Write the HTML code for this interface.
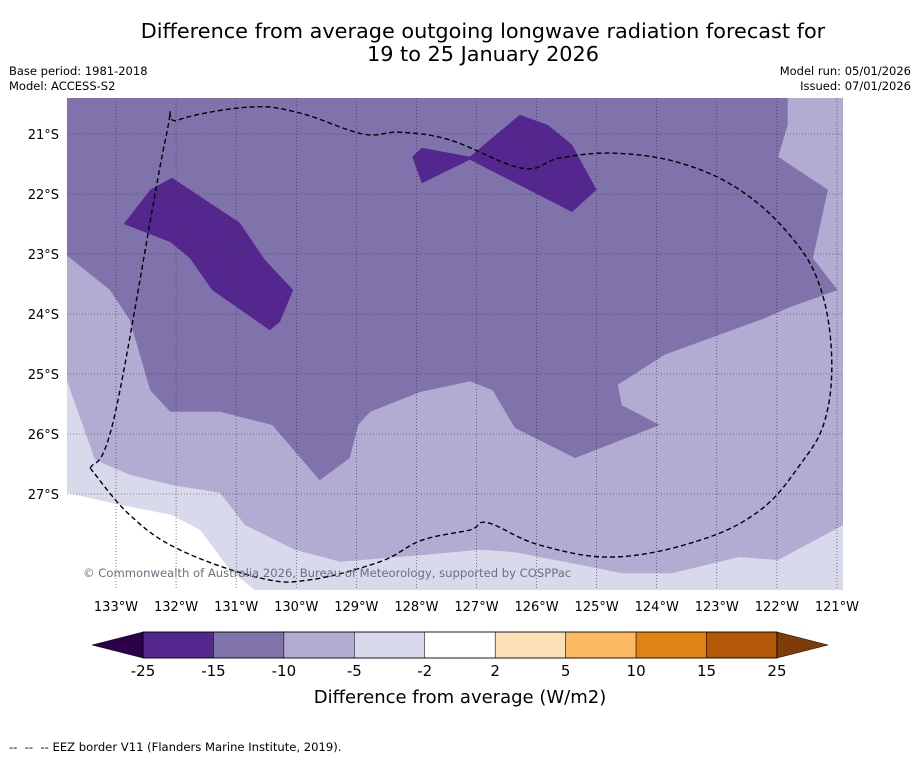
<!DOCTYPE html>
<html><head><meta charset="utf-8">
<style>
body{margin:0;background:#fff;font-family:"DejaVu Sans","Liberation Sans",sans-serif;}
svg{display:block}
</style></head>
<body>
<svg id="chart" width="919" height="758" viewBox="0 0 919 758" xmlns="http://www.w3.org/2000/svg">
<text x="483" y="38" font-size="20.8" text-anchor="middle" fill="#000">Difference from average outgoing longwave radiation forecast for</text>
<text x="483" y="61" font-size="20.8" text-anchor="middle" fill="#000">19 to 25 January 2026</text>
<text x="9" y="75" font-size="11.5">Base period: 1981-2018</text>
<text x="9" y="90" font-size="11.5">Model: ACCESS-S2</text>
<text x="911" y="75" font-size="11.5" text-anchor="end">Model run: 05/01/2026</text>
<text x="911" y="90" font-size="11.5" text-anchor="end">Issued: 07/01/2026</text>
<defs><clipPath id="mapclip"><rect x="67" y="98" width="776" height="492"/></clipPath></defs>
<g id="map" clip-path="url(#mapclip)"></g>
<g id="axes"></g>
<g id="cbar"></g>
<text x="460" y="703" font-size="18" text-anchor="middle">Difference from average (W/m2)</text>
<text x="9" y="751" font-size="11.6" style="white-space:pre">--  --  -- EEZ border V11 (Flanders Marine Institute, 2019).</text>
</svg>
<script>
const lonTicks=[-133,-132,-131,-130,-129,-128,-127,-126,-125,-124,-123,-122,-121];
const latTicks=[-21,-22,-23,-24,-25,-26,-27];
const levels=[-25,-15,-10,-5,-2,2,5,10,15,25];
const levelColors=["#54278f","#8073ac","#b2abd2","#d8daeb","#ffffff","#fee0b6","#fdb863","#e08214","#b35806"];
const extLow="#2d004b", extHigh="#7f3b08";
const lightRegion=[[-133.82,-23.02],[-133.10,-23.60],[-132.77,-24.10],[-132.43,-25.27],[-132.10,-25.63],[-131.27,-25.63],[-130.40,-25.85],[-129.61,-26.77],[-129.11,-26.40],[-128.97,-25.85],[-128.77,-25.63],[-127.94,-25.30],[-127.11,-25.12],[-126.73,-25.27],[-126.36,-25.90],[-125.36,-26.40],[-123.95,-25.85],[-124.58,-25.52],[-124.65,-25.18],[-123.87,-24.68],[-122.20,-24.07],[-121.82,-23.90],[-120.99,-23.60],[-121.40,-23.07],[-121.15,-21.93],[-121.98,-21.38],[-121.82,-20.85],[-121.82,-20.40],[-120.90,-20.40],[-120.90,-28.60],[-133.82,-28.60]];
const lightestRegion=[[-133.82,-25.10],[-133.35,-26.43],[-132.77,-26.68],[-132.07,-26.85],[-131.27,-26.98],[-130.85,-27.52],[-130.02,-27.93],[-129.27,-28.13],[-127.94,-28.02],[-126.94,-27.93],[-126.36,-27.97],[-125.28,-28.18],[-124.58,-28.32],[-123.75,-28.32],[-122.62,-28.05],[-121.98,-28.10],[-120.90,-27.52],[-120.90,-28.60],[-133.82,-28.60]];
const whiteRegion=[[-133.82,-26.98],[-132.93,-27.18],[-132.07,-27.35],[-131.60,-27.60],[-131.10,-28.27],[-130.69,-28.60],[-133.82,-28.60]];
const darkWest=[[-132.87,-22.50],[-132.43,-21.93],[-132.07,-21.73],[-130.94,-22.48],[-130.52,-23.10],[-130.05,-23.60],[-130.27,-24.13],[-130.44,-24.27],[-131.40,-23.60],[-131.77,-23.07],[-132.10,-22.80]];
const darkNorth=[[-128.07,-21.38],[-127.91,-21.23],[-127.11,-21.38],[-126.28,-20.68],[-125.81,-20.85],[-125.41,-21.18],[-125.00,-21.93],[-125.41,-22.30],[-127.11,-21.43],[-127.91,-21.82]];
const eezBorder=[[-133.43,-26.57],[-133.02,-25.68],[-132.18,-21.10],[-131.97,-20.77],[-130.77,-20.55],[-129.94,-20.65],[-128.89,-21.00],[-128.27,-20.97],[-127.44,-21.10],[-126.24,-21.57],[-125.61,-21.40],[-124.70,-21.32],[-123.62,-21.48],[-122.62,-21.93],[-121.79,-22.68],[-121.29,-23.52],[-121.09,-24.68],[-121.20,-25.77],[-121.62,-26.52],[-122.28,-27.27],[-123.28,-27.77],[-124.70,-28.05],[-125.95,-27.85],[-126.81,-27.48],[-127.11,-27.60],[-127.91,-27.77],[-128.61,-28.13],[-129.77,-28.43],[-130.60,-28.40],[-131.94,-27.93],[-132.77,-27.35],[-133.43,-26.57]];

const NS="http://www.w3.org/2000/svg";
const xS=lon=>116+(lon+133)*60.08;
const yS=lat=>134+(-21-lat)*60;
const cbX=i=>143+i*70.44;
function mk(t,a,p){const e=document.createElementNS(NS,t);for(const k in a)e.setAttribute(k,a[k]);p.appendChild(e);return e;}
function pts(arr){return arr.map(p=>xS(p[0]).toFixed(1)+","+yS(p[1]).toFixed(1)).join(" ");}
function smoothPath(arr){
  const P=arr.map(p=>[xS(p[0]),yS(p[1])]);
  let d="M"+P[0][0].toFixed(1)+","+P[0][1].toFixed(1);
  for(let i=0;i<P.length-1;i++){
    const p0=P[Math.max(0,i-1)],p1=P[i],p2=P[i+1],p3=P[Math.min(P.length-1,i+2)];
    const t=0.18;
    const c1=[p1[0]+(p2[0]-p0[0])*t,p1[1]+(p2[1]-p0[1])*t];
    const c2=[p2[0]-(p3[0]-p1[0])*t,p2[1]-(p3[1]-p1[1])*t];
    d+=` C${c1[0].toFixed(1)},${c1[1].toFixed(1)} ${c2[0].toFixed(1)},${c2[1].toFixed(1)} ${p2[0].toFixed(1)},${p2[1].toFixed(1)}`;
  }
  return d;
}
const map=document.getElementById("map"),axes=document.getElementById("axes"),cb=document.getElementById("cbar");
let bg=mk("rect",{x:67,y:98,width:776,height:492,fill:levelColors[1]},map);


let p1=mk("polygon",{points:pts(lightRegion),fill:levelColors[2]},map);


let p2=mk("polygon",{points:pts(lightestRegion),fill:levelColors[3]},map);


let p3=mk("polygon",{points:pts(whiteRegion),fill:levelColors[4]},map);


let p4=mk("polygon",{points:pts(darkWest),fill:levelColors[0]},map);


let p5=mk("polygon",{points:pts(darkNorth),fill:levelColors[0]},map);


lonTicks.forEach(l=>{
  let g=mk("line",{x1:xS(l),x2:xS(l),y1:98,y2:590,"stroke":"#333","stroke-width":0.6,"stroke-dasharray":"1,2"},map);
  
  
  let t=mk("text",{x:xS(l),y:611,"font-size":13,"text-anchor":"middle"},axes);
  t.textContent=Math.abs(l)+"°W";
  
  
});
latTicks.forEach(l=>{
  let g=mk("line",{x1:67,x2:843,y1:yS(l),y2:yS(l),"stroke":"#333","stroke-width":0.6,"stroke-dasharray":"1,2"},map);
  
  
  let t=mk("text",{x:59,y:yS(l)+5,"font-size":13,"text-anchor":"end"},axes);
  t.textContent=Math.abs(l)+"°S";
  
  
});
let eez=mk("path",{d:smoothPath(eezBorder),"fill":"none","stroke":"#000","stroke-width":1.4,"stroke-dasharray":"5,3"},map);


let cr=mk("text",{x:83,y:577,"font-size":11.6,"fill":"#6e6e80"},map);
cr.textContent="© Commonwealth of Australia 2026, Bureau of Meteorology, supported by COSPPac";


levelColors.forEach((c,i)=>{
  let r=mk("rect",{x:cbX(i),y:632,width:cbX(i+1)-cbX(i),height:26,"fill":c,"stroke":"#000","stroke-width":0.5},cb);
  
  
});
let e1=mk("polygon",{points:`${cbX(0)},632 92,645 ${cbX(0)},658`,"fill":extLow,"stroke":"#000","stroke-width":0.5},cb);


let n=levels.length-1;
let e2=mk("polygon",{points:`${cbX(n)},632 828,645 ${cbX(n)},658`,"fill":extHigh,"stroke":"#000","stroke-width":0.5},cb);


mk("rect",{x:cbX(0),y:632,width:cbX(n)-cbX(0),height:26,"fill":"none","stroke":"#000","stroke-width":0.8},cb);
levels.forEach((v,i)=>{
  let t=mk("text",{x:cbX(i),y:676,"font-size":15,"text-anchor":"middle"},cb);
  t.textContent=v;
  
  
});
</script>
</body></html>
